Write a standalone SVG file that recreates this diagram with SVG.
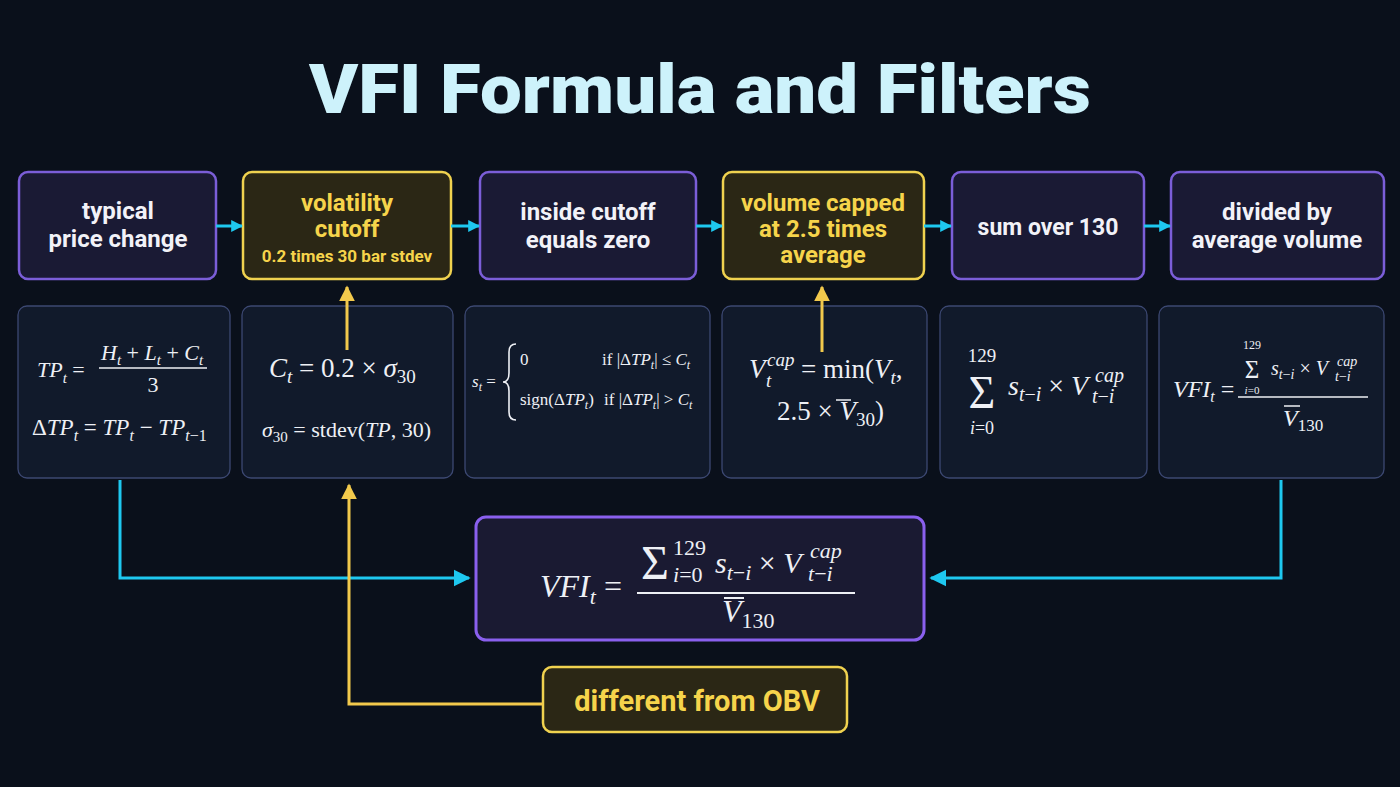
<svg xmlns="http://www.w3.org/2000/svg" width="1400" height="787" viewBox="0 0 1400 787">
<defs>
<style>
.nodeP{fill:#1a1a34;stroke:#7b5ed8;stroke-width:2.5}
.nodeY{fill:#2b2715;stroke:#f0d24f;stroke-width:2.5}
.fbox{fill:#111a2b;stroke:#3c4872;stroke-width:1.3}
.lbl{font-family:Roboto,"Liberation Sans",sans-serif;font-weight:700;font-size:24px;fill:#f2f2f8;text-anchor:middle}
.lblY{fill:#f6d44b}
.m{font-family:"Liberation Serif","DejaVu Serif",serif;fill:#eef0f5}
.i{font-style:italic}
.cy{fill:none;stroke:#1ec8f0;stroke-width:3}
.ye{fill:none;stroke:#f2c94c;stroke-width:3}
.bar{stroke:#eef0f5;stroke-width:1.5}
</style>
<marker id="ahC" viewBox="0 0 10 10" refX="9" refY="5" markerWidth="17" markerHeight="20" markerUnits="userSpaceOnUse" orient="auto"><path d="M0,0 L10,5 L0,10 z" fill="#1ec8f0"/></marker>
<marker id="ahCs" viewBox="0 0 10 10" refX="9" refY="5" markerWidth="12" markerHeight="17" markerUnits="userSpaceOnUse" orient="auto"><path d="M0,0 L10,5 L0,10 z" fill="#1ec8f0"/></marker>
<marker id="ahY" viewBox="0 0 10 10" refX="9" refY="5" markerWidth="16" markerHeight="17" markerUnits="userSpaceOnUse" orient="auto"><path d="M0,0 L10,5 L0,10 z" fill="#f2c94c"/></marker>
</defs>
<rect width="1400" height="787" fill="#0a101b"/>

<text x="700" y="113" text-anchor="middle" font-family="Roboto,Inter,sans-serif" font-weight="900" font-size="69" fill="#cdf2fb" textLength="782" lengthAdjust="spacingAndGlyphs">VFI Formula and Filters</text>

<g id="n1"><rect x="19" y="172" width="197" height="107" rx="9" class="nodeP"/>
<text class="lbl" x="118" y="219">typical</text><text class="lbl" x="118" y="247">price change</text></g>
<g id="n2"><rect x="243" y="172" width="208" height="107" rx="9" class="nodeY"/>
<text class="lbl lblY" x="347" y="211">volatility</text><text class="lbl lblY" x="347" y="237">cutoff</text>
<text class="lbl lblY" x="347" y="262" style="font-size:17px">0.2 times 30 bar stdev</text></g>
<g id="n3"><rect x="480" y="172" width="216" height="107" rx="9" class="nodeP"/>
<text class="lbl" x="588" y="220">inside cutoff</text><text class="lbl" x="588" y="248">equals zero</text></g>
<g id="n4"><rect x="723" y="172" width="201" height="107" rx="9" class="nodeY"/>
<text class="lbl lblY" x="823" y="211">volume capped</text><text class="lbl lblY" x="823" y="237">at 2.5 times</text><text class="lbl lblY" x="823" y="263">average</text></g>
<g id="n5"><rect x="952" y="172" width="192" height="107" rx="9" class="nodeP"/>
<text class="lbl" x="1048" y="235" style="font-size:23px">sum over 130</text></g>
<g id="n6"><rect x="1171" y="172" width="213" height="107" rx="9" class="nodeP"/>
<text class="lbl" x="1277" y="220">divided by</text><text class="lbl" x="1277" y="248">average volume</text></g>

<g id="f1"><rect x="18" y="306" width="212" height="172" rx="9" class="fbox"/>
<text class="m" x="37" y="377" font-size="22"><tspan class="i">TP</tspan><tspan class="i" font-size="15" dy="6">t</tspan><tspan dy="-6"> = </tspan></text>
<text class="m" x="101" y="360" font-size="22"><tspan class="i">H</tspan><tspan class="i" font-size="15" dy="5">t</tspan><tspan dy="-5"> + </tspan><tspan class="i">L</tspan><tspan class="i" font-size="15" dy="5">t</tspan><tspan dy="-5"> + </tspan><tspan class="i">C</tspan><tspan class="i" font-size="15" dy="5">t</tspan></text>
<line x1="99" y1="368" x2="207" y2="368" class="bar"/>
<text class="m" x="153" y="392" font-size="22" text-anchor="middle">3</text>
<text class="m" x="32" y="435" font-size="23"><tspan>Δ</tspan><tspan class="i">TP</tspan><tspan class="i" font-size="16" dy="6">t</tspan><tspan dy="-6"> = </tspan><tspan class="i">TP</tspan><tspan class="i" font-size="16" dy="6">t</tspan><tspan dy="-6"> − </tspan><tspan class="i">TP</tspan><tspan font-size="16" dy="6"><tspan class="i">t</tspan>−1</tspan></text>
</g>

<g id="f2"><rect x="242" y="306" width="211" height="172" rx="9" class="fbox"/>
<text class="m" x="269" y="377" font-size="27"><tspan class="i">C</tspan><tspan class="i" font-size="19" dy="6">t</tspan><tspan dy="-6"> = 0.2 × </tspan><tspan class="i">σ</tspan><tspan font-size="19" dy="6">30</tspan></text>
<text class="m" x="262" y="437" font-size="22"><tspan class="i">σ</tspan><tspan font-size="15" dy="5">30</tspan><tspan dy="-5"> = stdev(</tspan><tspan class="i">TP</tspan><tspan>, 30)</tspan></text>
</g>

<g id="f3"><rect x="465" y="306" width="245" height="172" rx="9" class="fbox"/>
<text class="m" x="472" y="387" font-size="17"><tspan class="i">s</tspan><tspan class="i" font-size="12" dy="4">t</tspan><tspan dy="-4"> =</tspan></text>
<path d="M516,344 Q509,344 509,352 L509,373 Q509,382 503,382 Q509,382 509,391 L509,412 Q509,420 516,420" fill="none" stroke="#eef0f5" stroke-width="1.6"/>
<text class="m" x="520" y="365" font-size="17">0</text>
<text class="m" x="602" y="365" font-size="17">if |Δ<tspan class="i">TP</tspan><tspan class="i" font-size="12" dy="4">t</tspan><tspan dy="-4">| ≤ </tspan><tspan class="i">C</tspan><tspan class="i" font-size="12" dy="4">t</tspan></text>
<text class="m" x="520" y="405" font-size="17">sign(Δ<tspan class="i">TP</tspan><tspan class="i" font-size="12" dy="4">t</tspan><tspan dy="-4">)</tspan></text>
<text class="m" x="604" y="405" font-size="17">if |Δ<tspan class="i">TP</tspan><tspan class="i" font-size="12" dy="4">t</tspan><tspan dy="-4">| &gt; </tspan><tspan class="i">C</tspan><tspan class="i" font-size="12" dy="4">t</tspan></text>
</g>

<g id="f4"><rect x="722" y="306" width="205" height="172" rx="9" class="fbox"/>
<text class="m"><tspan class="i" x="749" y="378" font-size="27">V</tspan><tspan class="i" x="767" y="366" font-size="19">cap</tspan><tspan class="i" x="766" y="387" font-size="19">t</tspan><tspan x="801" y="378" font-size="27">= min(</tspan><tspan class="i" font-size="27">V</tspan><tspan class="i" font-size="19" y="384">t</tspan><tspan font-size="27" y="378">,</tspan></text>
<text class="m" x="777" y="420" font-size="27">2.5 × <tspan class="i">V</tspan><tspan font-size="19" dy="6">30</tspan><tspan dy="-6">)</tspan></text>
<line x1="836" y1="400" x2="851" y2="400" class="bar"/>
</g>

<g id="f5"><rect x="940" y="306" width="207" height="172" rx="9" class="fbox"/>
<text class="m"><tspan x="982" y="362" font-size="19" text-anchor="middle">129</tspan><tspan x="982" y="408" font-size="46" text-anchor="middle">Σ</tspan><tspan x="982" y="434" font-size="18" text-anchor="middle"><tspan class="i">i</tspan>=0</tspan><tspan x="1008" y="395" font-size="28" class="i">s</tspan><tspan font-size="20" y="401"><tspan class="i">t</tspan>−<tspan class="i">i</tspan></tspan><tspan font-size="28" y="395"> × </tspan><tspan font-size="28" class="i">V</tspan><tspan x="1095" y="382" font-size="20" class="i">cap</tspan><tspan x="1092" y="403" font-size="20"><tspan class="i">t</tspan>−<tspan class="i">i</tspan></tspan></text>
</g>

<g id="f6"><rect x="1159" y="306" width="225" height="172" rx="9" class="fbox"/>
<text class="m" x="1173" y="397" font-size="24"><tspan class="i">VFI</tspan><tspan class="i" font-size="16" dy="5">t</tspan><tspan dy="-5"> =</tspan></text>
<line x1="1238" y1="397" x2="1368" y2="397" class="bar"/>
<text class="m"><tspan x="1252" y="349" font-size="12" text-anchor="middle">129</tspan><tspan x="1252" y="378" font-size="25" text-anchor="middle">Σ</tspan><tspan x="1252" y="394" font-size="11" text-anchor="middle"><tspan class="i">i</tspan>=0</tspan><tspan x="1271" y="375" font-size="20" class="i">s</tspan><tspan font-size="14" y="379"><tspan class="i">t</tspan>−<tspan class="i">i</tspan></tspan><tspan font-size="20" y="375"> × </tspan><tspan font-size="20" class="i">V</tspan><tspan x="1337" y="366" font-size="14" class="i">cap</tspan><tspan x="1335" y="381" font-size="14"><tspan class="i">t</tspan>−<tspan class="i">i</tspan></tspan></text>
<text class="m" x="1283" y="426" font-size="24"><tspan class="i">V</tspan><tspan font-size="17" dy="5">130</tspan></text>
<line x1="1284" y1="406" x2="1300" y2="406" class="bar"/>
</g>

<g id="final"><rect x="476" y="517" width="448" height="123" rx="10" fill="#1a1a32" stroke="#8a60ee" stroke-width="3"/>
<text class="m" x="540" y="597" font-size="32"><tspan class="i">VFI</tspan><tspan class="i" font-size="22" dy="7">t</tspan><tspan dy="-7"> = </tspan></text>
<line x1="637" y1="593" x2="855" y2="593" stroke="#eef0f5" stroke-width="2"/>
<text class="m"><tspan x="655" y="579" font-size="48" text-anchor="middle">Σ</tspan><tspan x="673" y="555" font-size="22">129</tspan><tspan x="673" y="582" font-size="22"><tspan class="i">i</tspan>=0</tspan><tspan x="715" y="573" font-size="30" class="i">s</tspan><tspan font-size="22" y="580"><tspan class="i">t</tspan>−<tspan class="i">i</tspan></tspan><tspan font-size="30" y="573"> × </tspan><tspan font-size="30" class="i">V</tspan><tspan x="810" y="558" font-size="22" class="i">cap</tspan><tspan x="808" y="581" font-size="22"><tspan class="i">t</tspan>−<tspan class="i">i</tspan></tspan></text>
<text class="m" x="722" y="622" font-size="32"><tspan class="i">V</tspan><tspan font-size="22" dy="6">130</tspan></text>
<line x1="724" y1="598" x2="744" y2="598" stroke="#eef0f5" stroke-width="2"/>
</g>

<g id="obv"><rect x="543" y="667" width="304" height="65" rx="9" class="nodeY"/>
<text class="lbl lblY" x="697" y="711" style="font-size:29px">different from OBV</text></g>

<g id="connectors">
<line x1="216" y1="226" x2="242" y2="226" class="cy" stroke-width="5" marker-end="url(#ahCs)"/>
<line x1="451" y1="226" x2="479" y2="226" class="cy" stroke-width="5" marker-end="url(#ahCs)"/>
<line x1="696" y1="226" x2="722" y2="226" class="cy" stroke-width="5" marker-end="url(#ahCs)"/>
<line x1="924" y1="226" x2="951" y2="226" class="cy" stroke-width="5" marker-end="url(#ahCs)"/>
<line x1="1144" y1="226" x2="1170" y2="226" class="cy" stroke-width="5" marker-end="url(#ahCs)"/>
<path d="M120,480 V578 H469" class="cy" marker-end="url(#ahC)"/>
<path d="M1281,480 V578 H931" class="cy" marker-end="url(#ahC)"/>
<path d="M543,704 H349 V485" class="ye" marker-end="url(#ahY)"/>
<path d="M347,350 V287" class="ye" stroke-width="3.5" marker-end="url(#ahY)"/>
<path d="M822,352 V287" class="ye" stroke-width="3.5" marker-end="url(#ahY)"/>
</g>
</svg>
